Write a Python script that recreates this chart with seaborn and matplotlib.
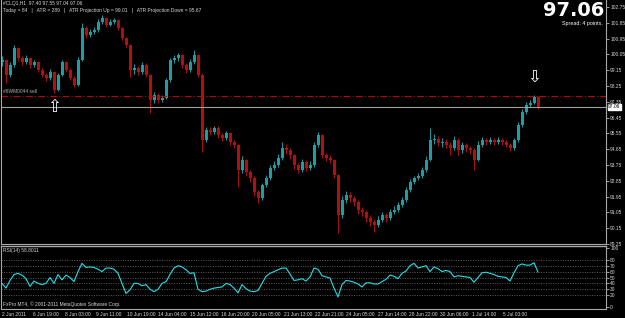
import numpy as np
import pandas as pd
import seaborn as sns
import matplotlib.pyplot as plt

# ---------------- data (one candle ~ 4 hours) ----------------
closes = [99.73, 98.88, 99.45, 100.41, 99.84, 99.62, 99.84, 99.45, 99.62, 99.16,
          98.88, 98.71, 99.05, 98.02, 98.88, 99.62, 99.16, 98.71, 98.31, 99.73,
          101.55, 101.16, 101.33, 101.44, 101.90, 102.12, 101.72, 101.90, 102.01, 101.55,
          100.98, 100.59, 99.16, 99.28, 99.05, 99.45, 98.88, 97.45, 97.74, 97.45,
          97.57, 98.59, 99.73, 99.84, 100.02, 99.45, 99.16, 99.62, 100.02, 98.88,
          95.17, 95.74, 95.63, 95.86, 95.46, 95.29, 95.57, 95.06, 94.89, 93.47,
          94.04, 93.35, 93.01, 92.21, 91.87, 92.61, 93.01, 93.58, 93.75, 94.15,
          94.72, 94.60, 94.32, 93.75, 93.47, 93.92, 93.58, 93.75, 94.89, 95.46,
          94.32, 94.15, 94.04, 93.18, 90.90, 91.76, 92.04, 91.87, 91.64, 91.19,
          91.07, 90.73, 90.50, 90.33, 90.62, 90.90, 90.73, 91.07, 91.19, 91.47,
          91.76, 92.33, 92.78, 93.01, 93.12, 93.47, 94.04, 95.17, 95.22, 95.00,
          95.06, 94.89, 94.72, 95.17, 94.60, 94.89, 94.72, 94.60, 94.04, 94.89,
          95.17, 95.06, 95.17, 95.06, 95.17, 95.06, 94.89, 94.72, 95.17, 96.03,
          96.77, 97.17, 97.28, 97.62, 97.06]
highs = [99.95, 99.80, 99.60, 100.59, 100.45, 99.95, 100.00, 99.90, 99.75, 99.70,
         99.25, 99.00, 99.20, 99.10, 99.00, 99.75, 99.70, 99.25, 98.80, 99.90,
         101.84, 101.65, 101.50, 101.60, 102.05, 102.29, 102.20, 102.05, 102.12, 102.05,
         101.60, 101.05, 100.65, 99.50, 99.40, 99.60, 99.55, 98.95, 97.90, 97.85,
         97.75, 98.70, 99.85, 100.00, 100.15, 100.10, 99.55, 99.80, 100.30, 100.10,
         99.00, 95.90, 95.90, 96.00, 95.95, 95.60, 95.70, 95.65, 95.20, 94.95,
         94.25, 94.10, 93.45, 93.10, 92.35, 92.75, 93.20, 93.75, 93.95, 94.35,
         95.06, 94.95, 94.70, 94.40, 93.85, 94.10, 94.05, 93.95, 95.05, 95.63,
         95.50, 94.45, 94.30, 94.10, 93.25, 92.00, 92.25, 92.20, 92.00, 91.75,
         91.35, 91.20, 90.90, 90.65, 90.85, 91.10, 91.00, 91.25, 91.40, 91.65,
         91.95, 92.50, 92.95, 93.15, 93.30, 93.65, 94.25, 95.86, 95.50, 95.40,
         95.30, 95.25, 95.05, 95.40, 95.30, 95.05, 95.00, 94.85, 94.70, 95.10,
         95.35, 95.30, 95.35, 95.30, 95.35, 95.30, 95.15, 95.00, 95.30, 96.20,
         96.95, 97.35, 97.45, 97.74, 97.70]
lows = [99.40, 98.42, 98.75, 99.35, 99.70, 99.45, 99.50, 99.30, 99.35, 99.05,
        98.75, 98.55, 98.60, 97.85, 97.95, 98.80, 99.05, 98.60, 98.20, 98.25,
        99.65, 101.00, 101.05, 101.20, 101.35, 101.80, 101.60, 101.65, 101.80, 101.45,
        100.85, 100.45, 98.76, 98.95, 98.85, 98.95, 98.75, 96.71, 97.30, 97.30,
        97.35, 97.50, 98.50, 99.55, 99.70, 99.30, 99.00, 99.05, 99.50, 98.75,
        94.49, 95.05, 95.45, 95.50, 95.30, 95.10, 95.15, 94.90, 94.70, 92.49,
        93.30, 93.15, 92.80, 92.00, 91.58, 91.75, 92.50, 92.90, 93.45, 93.65,
        94.05, 94.40, 94.10, 93.55, 93.30, 93.35, 93.40, 93.45, 93.65, 94.75,
        94.15, 94.00, 93.85, 93.00, 89.87, 90.75, 91.60, 91.65, 91.40, 90.95,
        90.85, 90.50, 90.25, 89.93, 90.20, 90.50, 90.50, 90.60, 90.95, 91.05,
        91.35, 91.65, 92.20, 92.65, 92.90, 93.00, 93.35, 93.95, 94.95, 94.85,
        94.80, 94.70, 94.30, 94.60, 94.30, 94.45, 94.50, 94.35, 93.47, 93.95,
        94.75, 94.90, 94.95, 94.90, 94.95, 94.90, 94.75, 94.55, 94.60, 95.05,
        95.90, 96.65, 97.05, 97.20, 96.95]
rsi = [40, 32, 45, 55, 57, 54, 48, 35, 44, 40, 38, 40, 50, 40, 55, 46, 54, 50, 43, 60,
       74, 67, 68, 67, 64, 60, 66, 66, 64, 57, 40, 23, 29, 40, 40, 36, 38, 30, 26, 30,
       40, 43, 55, 66, 70, 68, 63, 57, 58, 30, 26, 27, 30, 32, 33, 34, 40, 38, 32, 24,
       38, 31, 27, 26, 28, 40, 52, 57, 60, 63, 66, 66, 56, 45, 46, 48, 44, 51, 66, 64,
       53, 51, 49, 32, 17, 38, 45, 44, 42, 39, 34, 41, 41, 39, 39, 43, 47, 54, 52, 48,
       57, 61, 70, 74, 66, 68, 70, 60, 68, 65, 60, 62, 60, 51, 53, 52, 51, 50, 42, 50,
       58, 59, 57, 55, 52, 51, 50, 44, 58, 70, 73, 71, 71, 75, 59]
first_open = 99.60

time_labels = ["2 Jun 2011", "6 Jun 19:00", "8 Jun 03:00", "9 Jun 11:00", "10 Jun 19:00",
               "14 Jun 04:00", "15 Jun 12:00", "16 Jun 20:00", "20 Jun 05:00", "21 Jun 13:00",
               "22 Jun 21:00", "24 Jun 05:00", "27 Jun 14:00", "28 Jun 22:00", "30 Jun 06:00",
               "1 Jul 14:00", "5 Jul 03:00"]
price_ticks = [89.25, 90.15, 91.05, 91.95, 92.85, 93.75, 94.65, 95.55, 96.45, 97.35,
               98.25, 99.15, 100.05, 100.95, 101.85, 102.75]
rsi_ticks = [0, 20, 30, 40, 50, 60, 70, 80, 100]
rsi_levels = [20, 30, 40, 50, 60, 70, 80]
bid = 97.06
order_price = 97.68

# ---------------- build table ----------------
bar_step = 4
df = pd.DataFrame({"close": closes, "high": highs, "low": lows, "rsi": rsi})
df["open"] = [first_open] + closes[:-1]
df["x"] = np.arange(len(df)) * bar_step
df["up"] = df["close"] >= df["open"]

UP = "#1e9ea4"
DOWN = "#b01010"
FG = "#d8d8d8"
SMALL = 3.5

sns.set_style("dark")
plt.rcParams["font.family"] = ["Liberation Sans", "DejaVu Sans"]

fig = plt.figure(figsize=(6.25, 3.18), dpi=100, facecolor="black")
ax = fig.add_axes([1 / 625, 1 - 244 / 318, 605 / 625, 244 / 318])
ax2 = fig.add_axes([1 / 625, 9 / 318, 605 / 625, 63 / 318])

for a in (ax, ax2):
    a.set_facecolor("black")
    a.set_xlim(-1, 604)
    for s in a.spines.values():
        s.set_color("#a8a8a8")
        s.set_linewidth(0.8)
    a.spines["top"].set_visible(False)
    a.yaxis.tick_right()
    a.tick_params(axis="y", colors=FG, labelsize=SMALL, length=2, width=0.5, pad=1)
    a.grid(False)
ax2.spines["top"].set_visible(True)
ax2.spines["top"].set_linewidth(1.0)

# ---------------- candles ----------------
colors = np.where(df["up"], UP, DOWN)
ax.vlines(df["x"], df["low"], df["high"], colors=colors, lw=0.7)
body_lo = df[["open", "close"]].min(axis=1)
body_h = (df["close"] - df["open"]).abs().clip(lower=0.03)
ax.bar(df["x"], body_h, bottom=body_lo, width=3, color=colors, linewidth=0)

ax.set_ylim(89.25, 103.15)
ax.set_yticks(price_ticks)
ax.set_yticklabels([f"{v:.2f}" for v in price_ticks])
ax.set_xticks([])

ax.axhline(order_price, color="#c00000", lw=0.8, ls=(0, (6, 2, 1, 2)))
ax.axhline(bid, color="#a0a0a0", lw=0.8)
ax.annotate(f"{bid:.2f}", xy=(1.0, bid), xycoords=("axes fraction", "data"),
            xytext=(1.5, 0), textcoords="offset points", va="center", ha="left",
            fontsize=SMALL, color="black",
            bbox=dict(boxstyle="square,pad=0.12", fc="white", ec="white"))

ax.text(0.004, 0.985, "#CLQ1,H1  97.40 97.55 97.04 97.06", transform=ax.transAxes,
        color=FG, fontsize=SMALL, va="center", ha="left")
ax.text(0.004, 0.958,
        "Today = 84   |   ATR = 289   |   ATR Projection Up = 99.01   |   ATR Projection Down = 95.67",
        transform=ax.transAxes, color=FG, fontsize=SMALL, va="center", ha="left")
ax.text(0.997, 0.955, "97.06", transform=ax.transAxes, color="white", fontsize=14,
        fontweight="bold", va="center", ha="right",
        family=["Liberation Sans Narrow", "DejaVu Sans"])
ax.text(0.995, 0.905, "Spread: 4 points.", transform=ax.transAxes, color="white",
        fontsize=3.9, va="center", ha="right")
ax.text(0.004, 0.623, "#6WM0044 sell", transform=ax.transAxes, color="#b0b0b0",
        fontsize=SMALL, va="center", ha="left")

# entry / target arrows
ax.text(df["x"][13], 97.05, "\u21e7", color="white", fontsize=12, ha="center", va="center",
        family="DejaVu Sans")
ax.text(df["x"][133], 98.78, "\u21e9", color="white", fontsize=12, ha="center", va="center",
        family="DejaVu Sans")

# ---------------- RSI ----------------
for lv in rsi_levels:
    ax2.axhline(lv, color="#7a7a7a", lw=0.5, ls=(0, (1.5, 2)))
sns.lineplot(data=df, x="x", y="rsi", ax=ax2, color="#22e0e8", lw=0.8)
ax2.set_ylim(-3.4, 103.4)
ax2.set_yticks(rsi_ticks)
ax2.set_xlabel("")
ax2.set_ylabel("")
ax2.set_xticks(np.arange(len(time_labels)) * 31.3)
ax2.set_xticklabels(time_labels)
ax2.tick_params(axis="x", colors=FG, labelsize=SMALL, length=2, width=0.5, pad=0.5)
for lbl in ax2.get_xticklabels():
    lbl.set_ha("left")
ax2.text(0.004, 0.935, f"RSI(14) {58.8011}", transform=ax2.transAxes, color=FG,
         fontsize=SMALL, va="center", ha="left")
ax2.text(0.004, 0.07, "FxPro MT4, \u00a9 2001-2011 MetaQuotes Software Corp.",
         transform=ax2.transAxes, color=FG, fontsize=SMALL, va="center", ha="left")

fig.savefig("out.png", dpi=100, facecolor="black")
